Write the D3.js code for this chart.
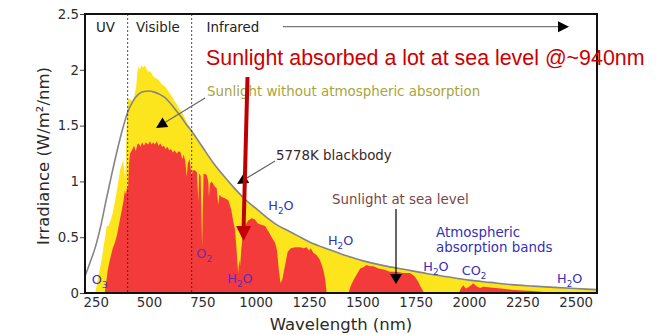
<!DOCTYPE html>
<html>
<head>
<meta charset="utf-8">
<script src="https://cdn.jsdelivr.net/npm/d3@7"></script>
<style>
  body { margin: 0; background: #fff; }
  svg { display: block; }
</style>
</head>
<body>
<div id="chart"></div>
<script>
// Values: [wavelength nm, irradiance W/m2/nm]
const sunlight_top = [
  [248,0],[258,0.1],[268,0.2],[280,0.32],[290,0.45],[296,0.52],[302,0.6],[310,0.6],
  [320,0.65],[330,0.72],[341,0.83],[352,0.95],[364,1.1],[372,1.15],[380,1.19],[384,1.1],[387,1.04],
  [391,1.15],[395,1.5],[400,1.73],[410,1.74],[420,1.72],[427,1.73],[434,1.79],[440,1.85],
  [445,1.97],[450,2.03],[458,2.0],[465,2.04],[473,2.02],[481,2.04],[490,2.0],[498,1.98],
  [505,1.99],[512,1.97],[520,1.94],[528,1.93],[536,1.92],[544,1.91],[552,1.89],[560,1.87],
  [568,1.86],[575,1.85],[590,1.81],[605,1.77],[620,1.72],[640,1.66],[660,1.6],[680,1.52],
  [700,1.46],[720,1.39],[750,1.31],[800,1.17],[850,1.05],[900,0.94],[950,0.84],[1000,0.76],
  [1050,0.68],[1100,0.61],[1150,0.56],[1200,0.51],[1250,0.46],[1300,0.42],[1350,0.385],
  [1400,0.35],[1450,0.32],[1500,0.29],[1600,0.245],[1700,0.21],[1800,0.175],[1900,0.145],
  [2000,0.115],[2100,0.095],[2200,0.075],[2300,0.062],[2400,0.05],[2500,0.04],[2600,0.03]
];

const sunlight_sea = [
  [292,0],[300,0.1],[306,0.2],[317,0.3],[330,0.4],[340,0.45],[350,0.52],[360,0.62],
  [372,0.74],[380,0.82],[387,0.92],[392,0.88],[397,0.95],[402,0.93],[406,1.15],[411,1.25],
  [420,1.28],[430,1.32],[438,1.27],[445,1.33],[452,1.34],[460,1.31],[468,1.35],[476,1.32],
  [485,1.35],[495,1.33],[505,1.36],[512,1.33],[520,1.35],[528,1.33],[536,1.36],[545,1.32],
  [553,1.34],[562,1.31],[570,1.32],[578,1.29],[586,1.31],[595,1.28],[603,1.29],[612,1.26],
  [620,1.28],[630,1.25],[640,1.27],[648,1.26],[656,1.2],[663,1.24],[670,1.18],[677,1.04],
  [682,1.16],[690,1.2],[695,1.12],[700,1.05],[705,1.1],[715,1.1],[725,1.08],[731,0.82],
  [735,1.07],[742,1.05],[746,0.7],[749,0.41],[752,0.75],[756,1.07],[770,1.06],[778,1.0],
  [781,0.86],[786,0.98],[794,1.0],[810,0.95],[817,0.94],[825,0.79],[830,0.88],[840,0.86],
  [855,0.85],[872,0.83],[885,0.75],[895,0.64],[903,0.57],[910,0.4],[918,0.18],[923,0.3],
  [927,0.24],[933,0.4],[942,0.56],[955,0.62],[965,0.65],[981,0.67],[995,0.66],[1012,0.62],
  [1030,0.61],[1044,0.6],[1060,0.55],[1075,0.5],[1091,0.45],[1100,0.38],[1108,0.22],
  [1116,0.09],[1125,0.12],[1138,0.25],[1150,0.37],[1165,0.4],[1185,0.41],[1208,0.41],
  [1225,0.4],[1239,0.41],[1250,0.38],[1258,0.4],[1270,0.36],[1285,0.34],[1300,0.3],
  [1310,0.25],[1318,0.2],[1326,0.12],[1333,0],[1435,0],[1445,0.06],[1460,0.12],[1475,0.17],
  [1490,0.22],[1505,0.23],[1520,0.25],[1535,0.24],[1552,0.24],[1575,0.22],[1600,0.21],
  [1630,0.19],[1660,0.19],[1690,0.18],[1723,0.18],[1745,0.15],[1762,0.1],[1775,0.05],
  [1790,0],[1952,0],[1962,0.04],[1973,0.07],[1985,0.04],[1995,0.05],[2010,0.07],[2020,0.087],
  [2035,0.06],[2052,0.045],[2067,0.056],[2100,0.05],[2150,0.04],[2200,0.03],[2250,0.022],
  [2300,0.017],[2350,0.01],[2400,0.005],[2430,0]
];

const blackbody = [
  [200,0.15],[225,0.28],[250,0.42],[275,0.61],[300,0.84],[325,1.06],[350,1.27],[375,1.46],
  [400,1.62],[425,1.72],[450,1.78],[475,1.805],[500,1.81],[525,1.80],[550,1.78],[575,1.75],
  [600,1.70],[625,1.64],[650,1.58],[675,1.51],[700,1.45],[750,1.31],[800,1.17],[850,1.05],
  [900,0.94],[950,0.84],[1000,0.76],[1050,0.68],[1100,0.61],[1150,0.56],[1200,0.51],
  [1250,0.46],[1300,0.42],[1350,0.385],[1400,0.35],[1450,0.32],[1500,0.29],[1600,0.245],
  [1700,0.21],[1800,0.175],[1900,0.145],[2000,0.115],[2100,0.095],[2200,0.075],[2300,0.062],
  [2400,0.05],[2500,0.04],[2600,0.03]
];

const x_ticks = [250, 500, 750, 1000, 1250, 1500, 1750, 2000, 2250, 2500];
const y_ticks = [0, 0.5, 1, 1.5, 2, 2.5];
const band_edges = [400, 700];

// gas labels: left edge given as wavelength, baseline given as irradiance
const gas_labels = [
  {main: "O", sub: "3", end: "", nm: 232, v: 0.08, color: "#3b30b8"},
  {main: "O", sub: "2", end: "", nm: 722, v: 0.312, color: "#6a2ea8"},
  {main: "H", sub: "2", end: "O", nm: 867, v: 0.087, color: "#5a2eae"},
  {main: "H", sub: "2", end: "O", nm: 1059, v: 0.743, color: "#3430b8"},
  {main: "H", sub: "2", end: "O", nm: 1339, v: 0.43, color: "#3430b8"},
  {main: "H", sub: "2", end: "O", nm: 1786, v: 0.197, color: "#3430b8"},
  {main: "CO", sub: "2", end: "", nm: 1966, v: 0.157, color: "#3430b8"},
  {main: "H", sub: "2", end: "O", nm: 2413, v: 0.087, color: "#3430b8"}
];

const width = 667;
const height = 335;
const margin = {top: 14, right: 70, bottom: 42, left: 85};
const font = "DejaVu Sans, Verdana, sans-serif";

const svg = d3.select("#chart")
  .append("svg")
  .attr("width", width)
  .attr("height", height);

const x = d3.scaleLinear()
  .domain([200, 2600])
  .range([margin.left, width - margin.right]);

const y = d3.scaleLinear()
  .domain([0, 2.5])
  .range([height - margin.bottom, margin.top]);

svg.append("clipPath")
  .attr("id", "plot-clip")
  .append("rect")
  .attr("x", margin.left)
  .attr("y", margin.top)
  .attr("width", x.range()[1] - margin.left)
  .attr("height", y.range()[0] - margin.top);

const plot = svg.append("g").attr("clip-path", "url(#plot-clip)");

const area = d3.area()
  .x(d => x(d[0]))
  .y0(y(0))
  .y1(d => y(d[1]));

plot.append("path")
  .datum(sunlight_top)
  .attr("fill", "#fde51e")
  .attr("d", area);

plot.append("path")
  .datum(sunlight_sea)
  .attr("fill", "#f43b3b")
  .attr("d", area);

plot.append("path")
  .datum(blackbody)
  .attr("fill", "none")
  .attr("stroke", "#858585")
  .attr("stroke-width", 1.6)
  .attr("d", d3.line().x(d => x(d[0])).y(d => y(d[1])).curve(d3.curveMonotoneX));

// UV / visible / infrared borders
svg.selectAll("line.band")
  .data(band_edges)
  .enter()
  .append("line")
  .attr("class", "band")
  .attr("x1", d => x(d))
  .attr("x2", d => x(d))
  .attr("y1", margin.top)
  .attr("y2", y(0))
  .attr("stroke", "#222")
  .attr("stroke-width", 0.8)
  .attr("stroke-dasharray", "2,2");

// axes
const x_axis = d3.axisBottom(x)
  .tickValues(x_ticks)
  .tickSize(0)
  .tickPadding(5)
  .tickFormat(d3.format("d"));

const y_axis = d3.axisLeft(y)
  .tickValues(y_ticks)
  .tickSize(5)
  .tickPadding(1)
  .tickFormat(d3.format("~g"));

const gx = svg.append("g")
  .attr("transform", `translate(0,${y(0)})`)
  .call(x_axis);
const gy = svg.append("g")
  .attr("transform", `translate(${margin.left},0)`)
  .call(y_axis);

[gx, gy].forEach(g => {
  g.select(".domain").remove();
  g.selectAll("text")
    .attr("font-family", font)
    .attr("font-size", 13.3)
    .attr("fill", "#2e2e2e");
  g.selectAll("line").attr("stroke", "#444");
});

// arrow heads
function arrowHead(tip_x, tip_y, from_x, from_y, len, half, color) {
  const a = Math.atan2(tip_y - from_y, tip_x - from_x);
  const bx = tip_x - len * Math.cos(a);
  const by = tip_y - len * Math.sin(a);
  const px = -Math.sin(a) * half;
  const py = Math.cos(a) * half;
  svg.append("path")
    .attr("d", `M${tip_x},${tip_y}L${bx + px},${by + py}L${bx - px},${by - py}Z`)
    .attr("fill", color);
}

function arrow(x1, y1, x2, y2, line_color, head_color, len, half) {
  const a = Math.atan2(y2 - y1, x2 - x1);
  svg.append("line")
    .attr("x1", x1).attr("y1", y1)
    .attr("x2", x2 - (len - 1) * Math.cos(a)).attr("y2", y2 - (len - 1) * Math.sin(a))
    .attr("stroke", line_color)
    .attr("stroke-width", 1.2);
  arrowHead(x2, y2, x1, y1, len, half, head_color);
}

function label(text, px, py, color, size) {
  return svg.append("text")
    .attr("x", px)
    .attr("y", py)
    .attr("font-family", font)
    .attr("font-size", size || 13.4)
    .attr("fill", color)
    .text(text);
}

label("UV", 96, 32, "#222");
label("Visible", 136, 32, "#222");
label("Infrared", 206.5, 32, "#222");
arrow(283, 26.7, 569, 26.7, "#777", "#000", 11, 5.5);

label("Sunlight without atmospheric absorption", 207, 96, "#a8a43a");
arrow(205, 98, 156, 128, "#666", "#000", 11, 5.5);

label("5778K blackbody", 276, 159.5, "#3a2626");
arrow(275, 161, 237, 184, "#666", "#000", 11, 5.5);

label("Sunlight at sea level", 332, 203.5, "#7a4646");
arrow(396, 209, 396, 284, "#000", "#000", 10, 6);

label("Atmospheric", 436, 237.3, "#3430b8");
label("absorption bands", 436, 252.3, "#3430b8");

gas_labels.forEach(g => {
  const t = label(g.main, x(g.nm), y(g.v), g.color, 12.8);
  t.append("tspan")
    .attr("font-size", 8.8)
    .attr("dy", 3.5)
    .text(g.sub);
  if (g.end) {
    t.append("tspan").attr("dy", -3.5).text(g.end);
  }
});

// frame
svg.append("rect")
  .attr("x", margin.left)
  .attr("y", margin.top)
  .attr("width", x.range()[1] - margin.left)
  .attr("height", y.range()[0] - margin.top)
  .attr("fill", "none")
  .attr("stroke", "#111")
  .attr("stroke-width", 2);

// axis titles
svg.append("text")
  .attr("transform", "translate(49,156) rotate(-90)")
  .attr("text-anchor", "middle")
  .attr("font-family", font)
  .attr("font-size", 16.5)
  .attr("fill", "#2a2a2a")
  .text("Irradiance (W/m²/nm)");

svg.append("text")
  .attr("x", 341)
  .attr("y", 330)
  .attr("text-anchor", "middle")
  .attr("font-family", font)
  .attr("font-size", 16.5)
  .attr("fill", "#2a2a2a")
  .text("Wavelength (nm)");

// the big red annotation
svg.append("text")
  .attr("x", 206)
  .attr("y", 64.5)
  .attr("font-family", "Liberation Sans, Arial, sans-serif")
  .attr("font-size", 21.4)
  .attr("fill", "#cc0000")
  .text("Sunlight absorbed a lot at sea level @~940nm");

svg.append("line")
  .attr("x1", 247.5).attr("y1", 77)
  .attr("x2", 243.6).attr("y2", 228)
  .attr("stroke", "#c00000")
  .attr("stroke-width", 4);
arrowHead(243.5, 241, 243.6, 228, 15, 7.5, "#c00000");
</script>
</body>
</html>
